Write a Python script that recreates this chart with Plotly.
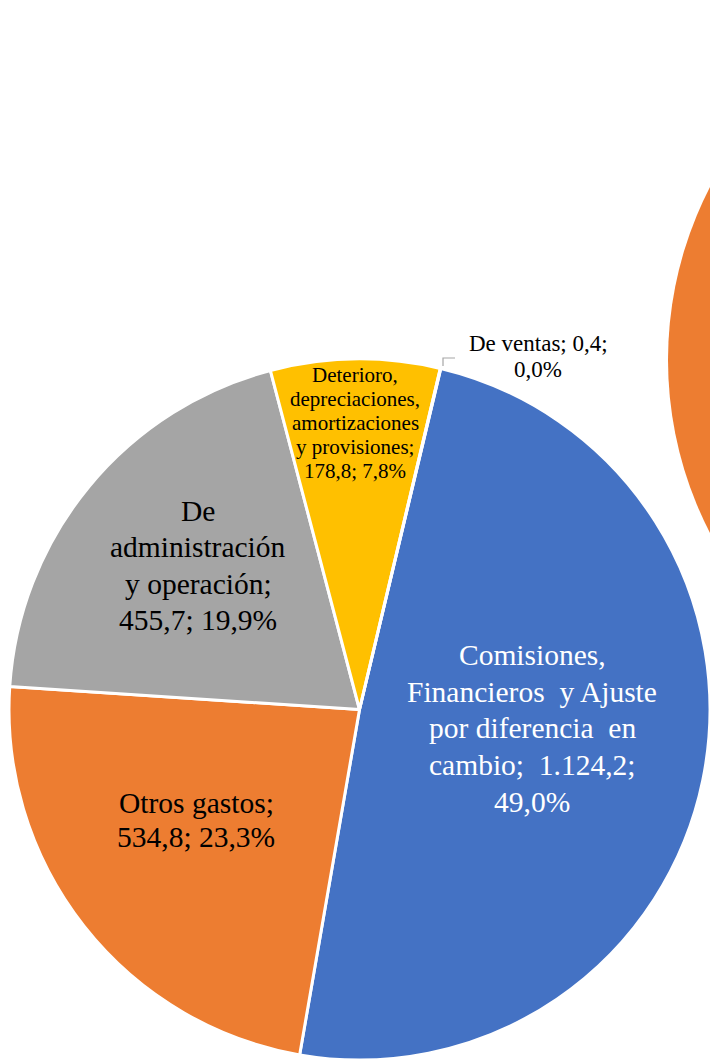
import plotly.graph_objects as go

W, H = 710, 1060

# ---------------- data ----------------
categories = [
    "Comisiones, Financieros y Ajuste por diferencia en cambio",
    "Otros gastos",
    "De administración y operación",
    "Deterioro, depreciaciones, amortizaciones y provisiones",
    "De ventas",
]
values = [1124.2, 534.8, 455.7, 178.8, 0.4]

# label line templates ({v} = value, {p} = percent)
label_templates = [
    ["Comisiones,", "Financieros\u00a0 y Ajuste", "por diferencia\u00a0 en", "cambio;\u00a0 {v};", "{p}"],
    ["Otros gastos;", "{v}; {p}"],
    ["De", "administración", "y operación;", "{v}; {p}"],
    ["Deterioro,", "depreciaciones,", "amortizaciones", "y provisiones;", "{v}; {p}"],
    ["De ventas; {v};", "{p}"],
]

# ---------------- styles ----------------
slice_colors = ["#4472C4", "#ED7D31", "#A5A5A5", "#FFC000", "#5B9BD5"]
label_font_colors = ["#FFFFFF", "#000000", "#000000", "#000000", "#000000"]
label_font_sizes = [29.5, 29.5, 29.5, 21, 23]
# label placement in pixels: center x, first baseline y, line pitch
label_cx = [532, 196, 198, 355, 538]
label_base = [665, 813, 520.7, 381.7, 351.7]
label_pitch = [36.7, 34, 36.4, 24, 26]

FONT = "Liberation Serif, Times New Roman, serif"


def px_x(x):
    return x / W


def px_y(y):
    return 1 - y / H


def fmt_num(v):
    s = f"{v:,.1f}"
    return s.replace(",", "X").replace(".", ",").replace("X", ".")


total = sum(values)

fig = go.Figure()

fig.add_trace(go.Pie(
    labels=categories,
    values=values,
    sort=False,
    direction="clockwise",
    rotation=13.4,
    marker=dict(colors=slice_colors, line=dict(color="white", width=3)),
    textinfo="none",
    hoverinfo="label+value+percent",
    showlegend=False,
    domain=dict(x=[px_x(9), px_x(710)], y=[px_y(1060), px_y(359)]),
))

annotations = []
for i, tmpl in enumerate(label_templates):
    v = fmt_num(values[i])
    p = fmt_num(values[i] / total * 100) + "%"
    fs = label_font_sizes[i]
    for j, line in enumerate(tmpl):
        txt = line.format(v=v, p=p)
        base = label_base[i] + j * label_pitch[i]
        cy = base - 0.3375 * fs
        annotations.append(dict(
            text=txt, x=px_x(label_cx[i]), y=px_y(cy),
            xref="paper", yref="paper", xanchor="center", yanchor="middle",
            showarrow=False,
            font=dict(family=FONT, size=fs, color=label_font_colors[i]),
        ))

shapes = [
    # partially visible second pie (right edge)
    dict(type="circle", xref="paper", yref="paper",
         x0=px_x(1045 - 377), x1=px_x(1045 + 377),
         y0=px_y(360 + 377), y1=px_y(360 - 377),
         fillcolor="#ED7D31", line=dict(width=0), layer="below"),
    # leader line for "De ventas"
    dict(type="path", xref="paper", yref="paper",
         path=f"M {px_x(443)},{px_y(366)} L {px_x(443)},{px_y(358)} L {px_x(455)},{px_y(358)}",
         line=dict(color="#A6A6A6", width=1.2)),
]

fig.update_layout(
    width=W, height=H,
    margin=dict(l=0, r=0, t=0, b=0),
    paper_bgcolor="white",
    plot_bgcolor="white",
    annotations=annotations,
    shapes=shapes,
)

fig.write_html(
    "out.html",
    config={"displayModeBar": False},
    post_script=(
        "document.body.style.margin='0';"
        "document.body.style.overflow='hidden';"
        "document.documentElement.style.overflow='hidden';"
    ),
)
